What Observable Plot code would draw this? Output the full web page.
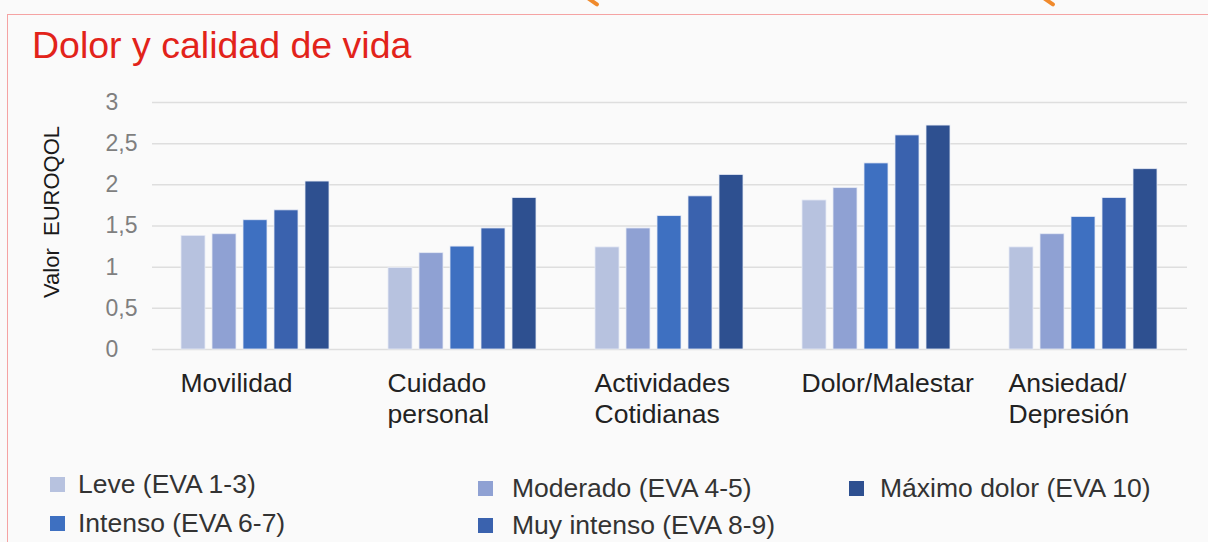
<!DOCTYPE html>
<html>
<head>
<meta charset="utf-8">
<script src="https://cdn.jsdelivr.net/npm/d3@7"></script>
<script src="https://cdn.jsdelivr.net/npm/@observablehq/plot@0.6"></script>
<style>
  html, body { margin: 0; padding: 0; background: #fafafa; }
  body { width: 1208px; height: 542px; position: relative; overflow: hidden; font-family: "Liberation Sans", Arial, sans-serif; }
  .frame-top { position: absolute; left: 7px; top: 14px; width: 1201px; height: 0; border-top: 1.5px solid #f5a3a3; }
  .frame-left { position: absolute; left: 7px; top: 14px; width: 0; height: 528px; border-left: 1.5px solid #f5a3a3; }
  .orange { position: absolute; width: 16px; height: 4px; background: #f08a2c; transform: rotate(35deg); border-radius: 2px; }
  #title { position: absolute; left: 32px; top: 27px; font-size: 37.5px; color: #e2231a; white-space: nowrap; line-height: 1; }
  #ylabel { position: absolute; left: 52px; top: 212px; transform: translate(-50%, -50%) rotate(-90deg); font-size: 22px; color: #1a1a1a; white-space: pre; }
  #chart { position: absolute; left: 0; top: 80px; }
  .leg { position: absolute; font-size: 26.5px; color: #333; white-space: nowrap; display: flex; align-items: center; }
  .leg .sw { width: 15px; height: 15px; margin-right: 13px; display: inline-block; }
</style>
</head>
<body>
<div class="frame-top"></div>
<div class="frame-left"></div>
<div class="orange" style="left:584px; top:-1px;"></div>
<div class="orange" style="left:1040px; top:-1px;"></div>
<div id="title">Dolor y calidad de vida</div>
<div id="ylabel">Valor  EUROQOL</div>
<div id="chart"></div>
<div id="legend"></div>
<script>
const categories = ["Movilidad", "Cuidado personal", "Actividades Cotidianas", "Dolor/Malestar", "Ansiedad/Depresión"];
const categoryLabels = ["Movilidad", "Cuidado\npersonal", "Actividades\nCotidianas", "Dolor/Malestar", "Ansiedad/\nDepresión"];
const severities = ["Leve (EVA 1-3)", "Moderado (EVA 4-5)", "Intenso (EVA 6-7)", "Muy intenso (EVA 8-9)", "Máximo dolor (EVA 10)"];
const colors = ["#b7c2df", "#8fa1d3", "#3e70c1", "#3a62ae", "#2e5090"];
const leve = [1.38, 0.99, 1.24, 1.81, 1.24];
const moderado = [1.40, 1.17, 1.47, 1.96, 1.40];
const intenso = [1.57, 1.25, 1.62, 2.26, 1.61];
const muyIntenso = [1.69, 1.47, 1.86, 2.60, 1.84];
const maximo = [2.04, 1.84, 2.12, 2.72, 2.19];
const yTicks = [0, 0.5, 1, 1.5, 2, 2.5, 3];

const series = [leve, moderado, intenso, muyIntenso, maximo];
const data = [];
categories.forEach((c, i) => {
  severities.forEach((s, j) => {
    data.push({category: c, severity: s, value: series[j][i]});
  });
});
const labelOf = Object.fromEntries(categories.map((c, i) => [c, categoryLabels[i]]));

const chart = Plot.plot({
  width: 1208,
  height: 360,
  marginLeft: 150,
  marginRight: 19,
  marginTop: 22,
  marginBottom: 91,
  style: {background: "transparent", fontFamily: "Liberation Sans, Arial, sans-serif"},
  fx: {domain: categories, padding: 0, axis: null},
  x: {domain: severities, paddingInner: 0.22, paddingOuter: 0.857, axis: null},
  y: {domain: [0, 3], axis: null},
  color: {domain: severities, range: colors},
  marks: [
    Plot.gridY(yTicks, {stroke: "#dedede", strokeOpacity: 1, strokeWidth: 1.5}),
    Plot.barY(data, {fx: "category", x: "severity", y: "value", fill: "severity", stroke: "#e6eaf5", strokeWidth: 0.8}),
    Plot.axisY(yTicks, {
      anchor: "left",
      facetAnchor: "left",
      tickSize: 0,
      tickPadding: 47,
      textAnchor: "start",
      tickFormat: d => String(d).replace(".", ","),
      fontSize: 23,
      fill: "#7f7f7f",
      label: null
    }),
    Plot.text(categories, {
      fx: d => d,
      text: d => labelOf[d],
      frameAnchor: "bottom-left",
      textAnchor: "start",
      lineAnchor: "top",
      dx: 28,
      dy: 21,
      fontSize: 26.5,
      lineHeight: 1.15,
      fill: "#222"
    })
  ]
});
document.getElementById("chart").appendChild(chart);

const legendPos = [
  {x: 50, y: 484},
  {x: 478, y: 488},
  {x: 50, y: 523},
  {x: 478, y: 525},
  {x: 849, y: 488}
];
const legend = document.getElementById("legend");
severities.forEach((s, i) => {
  const p = legendPos[i];
  const item = document.createElement("div");
  item.className = "leg";
  item.style.left = p.x + "px";
  item.style.top = (p.y - 15) + "px";
  item.style.height = "30px";
  const sw = document.createElement("span");
  sw.className = "sw";
  sw.style.background = colors[i];
  if (i === 1 || i === 3) sw.style.marginRight = "19px";
  if (i === 4) sw.style.marginRight = "16px";
  item.appendChild(sw);
  item.appendChild(document.createTextNode(s));
  legend.appendChild(item);
});
</script>
</body>
</html>
